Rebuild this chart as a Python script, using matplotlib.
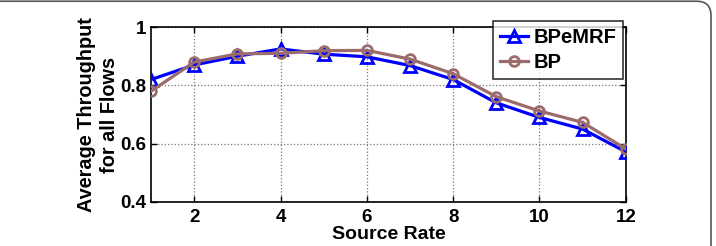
import matplotlib.pyplot as plt
from matplotlib.patches import FancyBboxPatch

plt.rcParams['font.family'] = ['Liberation Sans', 'DejaVu Sans']
plt.rcParams['font.weight'] = 'bold'

# data
source_rate = [1, 2, 3, 4, 5, 6, 7, 8, 9, 10, 11, 12]
bpemrf = [0.82, 0.87, 0.90, 0.925, 0.907, 0.898, 0.868, 0.82, 0.74, 0.69, 0.65, 0.572]
bp = [0.78, 0.88, 0.908, 0.91, 0.919, 0.92, 0.89, 0.84, 0.761, 0.712, 0.673, 0.582]
xticks = [2, 4, 6, 8, 10, 12]
yticks = [0.4, 0.6, 0.8, 1.0]
ytick_labels = ['0.4', '0.6', '0.8', '1']

fig = plt.figure(figsize=(7.16, 2.46), dpi=100)

# gray rounded frame around the figure
frame = FancyBboxPatch((-0.05, -0.2), 1.043, 1.195, boxstyle='round,pad=0,rounding_size=0.02',
                       transform=fig.transFigure, facecolor='none', edgecolor='#555555',
                       linewidth=1.2, mutation_aspect=716 / 246)
fig.patches.append(frame)

ax = fig.add_axes([0.211, 0.179, 0.663, 0.711])

ax.plot(source_rate, bpemrf, color='blue', lw=2.3, marker='^', ms=9,
        mfc='none', mec='blue', mew=2, label='BPeMRF', zorder=3)
ax.plot(source_rate, bp, color='#9c6b6b', lw=2.3, marker='o', ms=7,
        mfc='none', mec='#9c6b6b', mew=2, label='BP', zorder=4)

ax.set_xlim(1, 12)
ax.set_ylim(0.4, 1.0)
ax.set_xticks(xticks)
ax.set_yticks(yticks)
ax.set_yticklabels(ytick_labels)
ax.tick_params(direction='in', top=True, right=True, labelsize=13.5, width=1, length=4)
ax.tick_params(axis='x', pad=5)
for s in ax.spines.values():
    s.set_linewidth(1.2)
ax.grid(True, linestyle=':', color='#777777', linewidth=0.9)

ax.set_xlabel('Source Rate', fontsize=14, fontweight='bold', labelpad=0)
ax.set_ylabel('Average Throughput\nfor all Flows', fontsize=14.3, fontweight='bold', labelpad=1,
              linespacing=1.25)

leg = ax.legend(loc='upper right', bbox_to_anchor=(0.995, 1.035), fontsize=14.5,
                frameon=True, fancybox=False, edgecolor='black', borderpad=0.35,
                handlelength=1.4, labelspacing=0.3, borderaxespad=0.0, handletextpad=0.25)
leg.get_frame().set_linewidth(1.2)

fig.savefig('out.png', dpi=100)
